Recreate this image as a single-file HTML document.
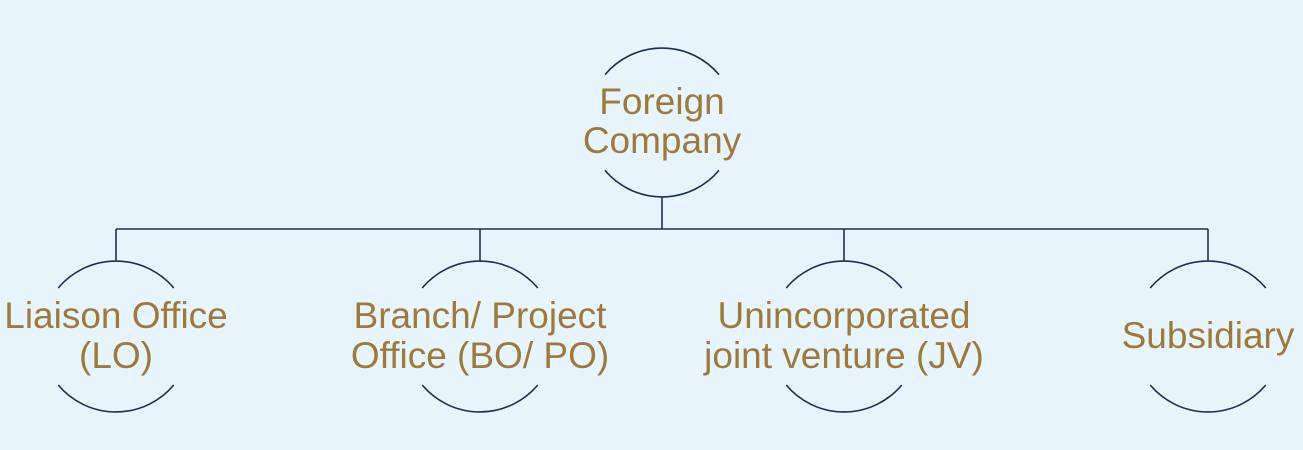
<!DOCTYPE html>
<html><head><meta charset="utf-8"><style>
html,body{margin:0;padding:0;background:#e8f4fc;}
svg{display:block}
text{font-family:"Liberation Sans",Arial,sans-serif;font-size:37px;fill:#9c7a3c;text-anchor:middle}
</style></head><body>
<svg width="1303" height="450" viewBox="0 0 1303 450" xmlns="http://www.w3.org/2000/svg">
<rect width="1303" height="450" fill="#e8f4fc"/>
<g stroke="#1a2e4f" stroke-width="1.6" fill="none">
<path d="M605,74.6 A74.5,74.5 0 0 1 719,74.6"/>
<path d="M605,170.4 A74.5,74.5 0 0 0 719,170.4"/>
<line x1="662" y1="197" x2="662" y2="229"/>
<line x1="116" y1="229" x2="1208" y2="229"/>
<line x1="116" y1="229" x2="116" y2="261"/>
<line x1="480" y1="229" x2="480" y2="261"/>
<line x1="844" y1="229" x2="844" y2="261"/>
<line x1="1208" y1="229" x2="1208" y2="261"/>
<path d="M58.2,288 A75.5,75.5 0 0 1 173.8,288"/>
<path d="M58.2,385 A75.5,75.5 0 0 0 173.8,385"/>
<path d="M422.2,288 A75.5,75.5 0 0 1 537.8,288"/>
<path d="M422.2,385 A75.5,75.5 0 0 0 537.8,385"/>
<path d="M786.2,288 A75.5,75.5 0 0 1 901.8,288"/>
<path d="M786.2,385 A75.5,75.5 0 0 0 901.8,385"/>
<path d="M1150.2,288 A75.5,75.5 0 0 1 1265.8,288"/>
<path d="M1150.2,385 A75.5,75.5 0 0 0 1265.8,385"/>
</g>
<text x="662" y="114">Foreign</text>
<text x="662" y="153">Company</text>
<text x="116" y="328">Liaison Office</text>
<text x="116" y="368">(LO)</text>
<text x="480" y="328">Branch/ Project</text>
<text x="480" y="368">Office (BO/ PO)</text>
<text x="844" y="328">Unincorporated</text>
<text x="844" y="368">joint venture (JV)</text>
<text x="1208" y="348">Subsidiary</text>
</svg>
</body></html>
